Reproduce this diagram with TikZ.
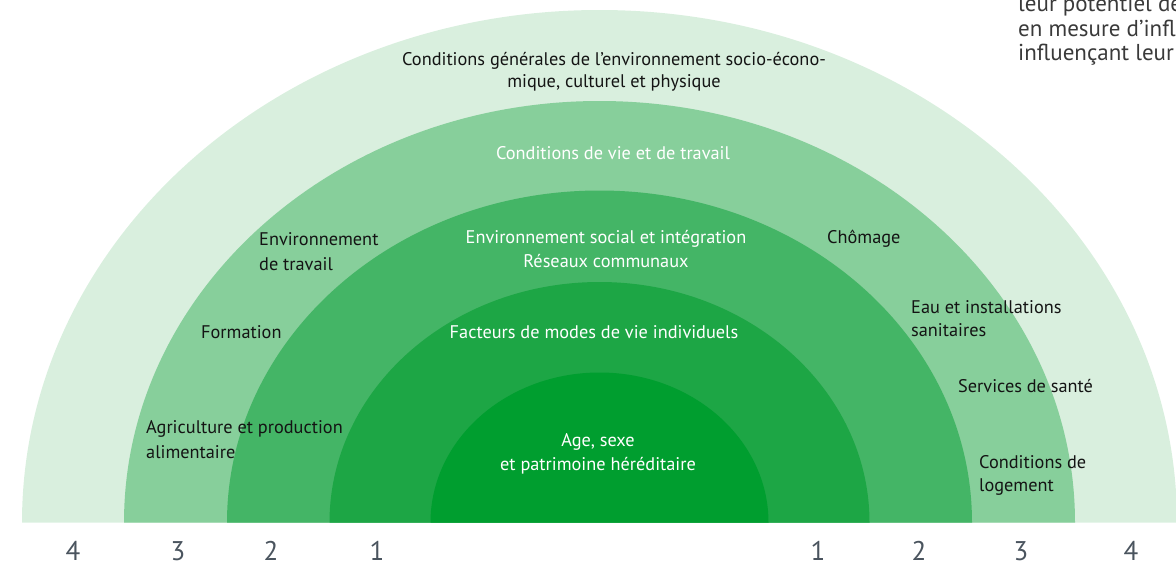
\documentclass[tikz,border=0pt]{standalone}
\usepackage{fontspec}
\setmainfont{PT Sans}
\definecolor{cfour}{HTML}{D9EFDE}
\definecolor{cthree}{HTML}{87CF9B}
\definecolor{ctwo}{HTML}{44B566}
\definecolor{cone}{HTML}{1DA645}
\definecolor{czero}{HTML}{009E2F}
\definecolor{numgray}{HTML}{4A545E}
\definecolor{txtgray}{HTML}{3A3A3A}
\begin{document}
\begin{tikzpicture}[x=1pt,y=-1pt,
  lbl/.style={font=\fontsize{18.3}{23}\selectfont, text=black!92, inner sep=0pt},
  lw/.style={lbl, anchor=base west},
  lc/.style={lbl, anchor=base},
  wc/.style={lbl, anchor=base, text=white},
  num/.style={font=\fontsize{27}{30}\selectfont, text=numgray, inner sep=0pt, anchor=base},
  side/.style={font=\fontsize{23}{26}\selectfont, text=txtgray, inner sep=0pt, anchor=base west}]
\useasboundingbox (0,0) rectangle (1176,565);
\clip (0,0) rectangle (1176,565);
% rings
\fill[cfour]  (22,522.5)  arc[start angle=180,end angle=0,x radius=577.5pt,y radius=512.5pt] -- cycle;
\fill[cthree] (124,522.5) arc[start angle=180,end angle=0,x radius=475.5pt,y radius=421.5pt] -- cycle;
\fill[ctwo]   (227,522.5) arc[start angle=180,end angle=0,x radius=372.5pt,y radius=332pt] -- cycle;
\fill[cone]   (329.5,522.5) arc[start angle=180,end angle=0,x radius=270pt,y radius=240.5pt] -- cycle;
\fill[czero]  (430.5,522.5) arc[start angle=180,end angle=0,x radius=169pt,y radius=150pt] -- cycle;
% centre labels
\node[lc] (g1) at (614,65) {Conditions générales de l’environnement socio-écono-};
\node[lc] (g2) at (614,87) {mique, culturel et physique};
\node[wc] (v1) at (613,159) {Conditions de vie et de travail};
\node[wc] (s1) at (606,243) {Environnement social et intégration};
\node[wc] (s2) at (606,267) {Réseaux communaux};
\node[wc] (f1) at (594,338) {Facteurs de modes de vie individuels};
\node[wc] (a1) at (598,446) {Age, sexe};
\node[wc] (a2) at (598,470) {et patrimoine héréditaire};
% left labels
\node[lw] (l1) at (259,245) {Environnement};
\node[lw] (l2) at (259,270) {de travail};
\node[lw] (l3) at (201,338) {Formation};
\node[lw] (l4) at (146,433) {Agriculture et production};
\node[lw] (l5) at (146,458) {alimentaire};
% right labels
\node[lw] (r1) at (827,243) {Chômage};
\node[lw] (r2) at (911,313) {Eau et installations};
\node[lw] (r3) at (911,336) {sanitaires};
\node[lw] (r4) at (958,392) {Services de santé};
\node[lw] (r5) at (979,468) {Conditions de};
\node[lw] (r6) at (979,491) {logement};
% numbers
\node[num] (n4l) at (73,560) {4};
\node[num] (n3l) at (178,560) {3};
\node[num] (n2l) at (271,560) {2};
\node[num] (n1l) at (377,560) {1};
\node[num] (n1r) at (818,560) {1};
\node[num] (n2r) at (919,560) {2};
\node[num] (n3r) at (1021,560) {3};
\node[num] (n4r) at (1131,560) {4};
% cut-off side text
\node[side] (t1) at (1018,11) {leur potentiel de};
\node[side] (t2) at (1018,36) {en mesure d’influencer};
\node[side] (t3) at (1018,60) {influençant leur};
\end{tikzpicture}
\end{document}
